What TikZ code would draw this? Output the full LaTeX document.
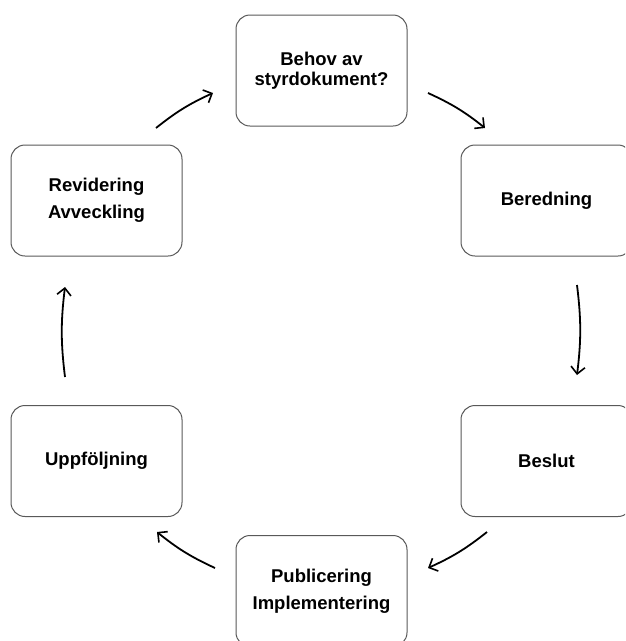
\documentclass[tikz,border=0pt]{standalone}
\usepackage{fontspec}
\setmainfont{Liberation Sans}
\usetikzlibrary{arrows.meta}

\tikzset{
  stage/.style={draw=black!65, line width=1pt, rounded corners=14pt, fill=white,
    minimum width=171pt, minimum height=111pt, align=center,
    font=\fontsize{18.5pt}{19.5pt}\selectfont\bfseries},
  wide/.style={font=\fontsize{18.5pt}{27pt}\selectfont\bfseries},
  flow/.style={line width=1.8pt, -{Straight Barb[length=7pt,width=14pt,line width=1.6pt]}, bend left=7}
}

\begin{document}
\begin{tikzpicture}[x=1pt,y=1pt]
\useasboundingbox (0,0) rectangle (625,-641);
\clip (0,0) rectangle (625,-641);
% stages of the cycle
\node[stage] (behov) at (321.5,-70.5) {Behov av\\styrdokument?};
\node[stage] (bered) at (546.5,-200.5) {Beredning};
\node[stage] (beslut) at (546.5,-461) {Beslut};
\node[stage, wide] (publ) at (321.5,-591) {Publicering\\Implementering};
\node[stage] (uppf) at (96.5,-461) {Uppföljning};
\node[stage, wide] (revid) at (96.5,-200.5) {Revidering\\Avveckling};
% arrow ends
\coordinate (a1) at (156,-128); \coordinate (b1) at (213,-93);
\coordinate (a2) at (428,-93);  \coordinate (b2) at (485,-128);
\coordinate (a3) at (577,-285); \coordinate (b3) at (577,-375);
\coordinate (a4) at (487,-532); \coordinate (b4) at (428,-568);
\coordinate (a5) at (215,-568); \coordinate (b5) at (157,-532);
\coordinate (a6) at (65,-377);  \coordinate (b6) at (65,-287);
\draw[flow] (a1) to (b1);
\draw[flow] (a2) to (b2);
\draw[flow] (a3) to (b3);
\draw[flow] (a4) to (b4);
\draw[flow] (a5) to (b5);
\draw[flow] (a6) to (b6);
\end{tikzpicture}
\end{document}
